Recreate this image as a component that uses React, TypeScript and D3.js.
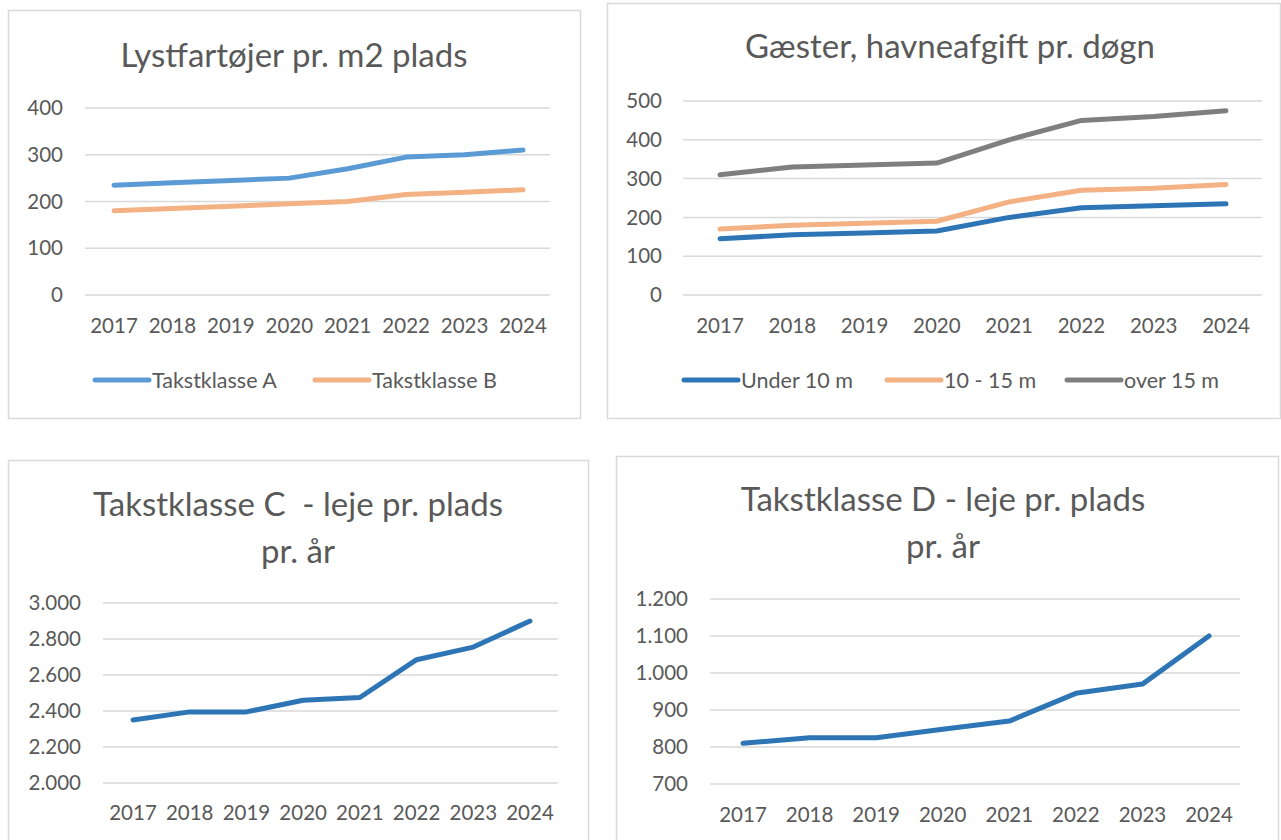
import { useEffect, useRef } from 'react';
import * as d3 from 'd3';

const years = ['2017', '2018', '2019', '2020', '2021', '2022', '2023', '2024'];

// Lystfartøjer pr. m2 plads
const takstA = [235, 240, 245, 250, 270, 295, 300, 310];
const takstB = [180, 185, 190, 195, 200, 215, 220, 225];

// Gæster, havneafgift pr. døgn
const under10 = [145, 155, 160, 165, 200, 225, 230, 235];
const mid10to15 = [170, 180, 185, 190, 240, 270, 275, 285];
const over15 = [310, 330, 335, 340, 400, 450, 460, 475];

// Takstklasse C / D - leje pr. plads pr. år
const takstC = [2350, 2395, 2395, 2460, 2475, 2685, 2755, 2900];
const takstD = [810, 825, 825, 848, 870, 945, 970, 1100];

const ticks1 = [0, 100, 200, 300, 400];
const ticks2 = [0, 100, 200, 300, 400, 500];
const ticksC = [2000, 2200, 2400, 2600, 2800, 3000];
const ticksD = [700, 800, 900, 1000, 1100, 1200];

const FONT = 'Lato, "Open Sans", sans-serif';
const TEXT = '#595959';
const GRID = '#d9d9d9';

interface Series { name: string; values: number[]; color: string }
interface Panel {
  box: [number, number, number, number];
  title: string[];
  titleX: number;
  titleY: number;
  ticks: number[];
  yTop: number;
  yBottom: number;
  gridX: [number, number];
  labelX: number;
  firstX: number;
  lastX: number;
  xLabelY: number;
  series: Series[];
  legend?: { y: number; items: { x: number }[] };
}

const fmt = (v: number) => d3.format(',')(v).replace(/,/g, '.');

const panels: Panel[] = [
  {
    box: [8, 10, 580, 418],
    title: ['Lystfartøjer pr. m2 plads'],
    titleX: 294, titleY: 55,
    ticks: ticks1, yTop: 108, yBottom: 295,
    gridX: [85, 550], labelX: 63,
    firstX: 114, lastX: 523, xLabelY: 326,
    series: [
      { name: 'Takstklasse A', values: takstA, color: '#5b9bd5' },
      { name: 'Takstklasse B', values: takstB, color: '#f4b183' },
    ],
    legend: { y: 380, items: [{ x: 95 }, { x: 315 }] },
  },
  {
    box: [607, 3, 1280, 418],
    title: ['Gæster, havneafgift pr. døgn'],
    titleX: 950, titleY: 46,
    ticks: ticks2, yTop: 101, yBottom: 295,
    gridX: [683, 1262], labelX: 662,
    firstX: 720, lastX: 1226, xLabelY: 326,
    series: [
      { name: 'Under 10 m', values: under10, color: '#2e75b6' },
      { name: '10 - 15 m', values: mid10to15, color: '#f4b183' },
      { name: 'over 15 m', values: over15, color: '#7f7f7f' },
    ],
    legend: { y: 380, items: [{ x: 684 }, { x: 887 }, { x: 1067 }] },
  },
  {
    box: [8, 460, 588, 850],
    title: ['Takstklasse C  - leje pr. plads', 'pr. år'],
    titleX: 298, titleY: 504,
    ticks: ticksC, yTop: 603, yBottom: 783,
    gridX: [103, 558], labelX: 81,
    firstX: 133, lastX: 530, xLabelY: 813,
    series: [{ name: 'C', values: takstC, color: '#2e75b6' }],
  },
  {
    box: [616, 456, 1278, 850],
    title: ['Takstklasse D - leje pr. plads', 'pr. år'],
    titleX: 943, titleY: 499,
    ticks: ticksD, yTop: 599, yBottom: 784,
    gridX: [710, 1240], labelX: 688,
    firstX: 743, lastX: 1209, xLabelY: 815,
    series: [{ name: 'D', values: takstD, color: '#2e75b6' }],
  },
];

export default function App() {
  const ref = useRef<SVGSVGElement>(null);

  useEffect(() => {
    if (!ref.current) return;
    const svg = d3.select(ref.current);
    svg.selectAll('*').remove();

    svg.append('rect').attr('width', 1281).attr('height', 840).attr('fill', '#fff');

    panels.forEach(p => {
      const g = svg.append('g');
      const [bx0, by0, bx1, by1] = p.box;
      g.append('rect')
        .attr('x', bx0 + 0.5).attr('y', by0 + 0.5)
        .attr('width', bx1 - bx0).attr('height', by1 - by0)
        .attr('fill', '#fff').attr('stroke', GRID).attr('stroke-width', 1.5);

      p.title.forEach((t, i) => {
        g.append('text')
          .attr('x', p.titleX).attr('y', p.titleY + i * 47)
          .attr('text-anchor', 'middle').attr('dy', '0.35em')
          .attr('font-family', FONT).attr('font-size', 33).attr('font-weight', 400)
          .attr('fill', TEXT).style('white-space', 'pre')
          .text(t);
      });

      const x = d3.scalePoint<string>().domain(years).range([p.firstX, p.lastX]);
      const y = d3.scaleLinear()
        .domain([p.ticks[0], p.ticks[p.ticks.length - 1]])
        .range([p.yBottom, p.yTop]);

      // gridlines + y labels
      p.ticks.forEach(t => {
        g.append('line')
          .attr('x1', p.gridX[0]).attr('x2', p.gridX[1])
          .attr('y1', y(t)).attr('y2', y(t))
          .attr('stroke', GRID).attr('stroke-width', 1.5);
        g.append('text')
          .attr('x', p.labelX).attr('y', y(t)).attr('dy', '0.35em')
          .attr('text-anchor', 'end')
          .attr('font-family', FONT).attr('font-size', 20.5).attr('fill', TEXT)
          .text(fmt(t));
      });

      // x labels
      years.forEach(yr => {
        g.append('text')
          .attr('x', x(yr)!).attr('y', p.xLabelY).attr('dy', '0.35em')
          .attr('text-anchor', 'middle')
          .attr('font-family', FONT).attr('font-size', 20.5).attr('fill', TEXT)
          .text(yr);
      });

      const line = d3.line<number>()
        .x((_, i) => x(years[i])!)
        .y(d => y(d));

      p.series.forEach(s => {
        g.append('path')
          .attr('d', line(s.values))
          .attr('fill', 'none').attr('stroke', s.color)
          .attr('stroke-width', 5)
          .attr('stroke-linecap', 'round').attr('stroke-linejoin', 'round');
      });

      if (p.legend) {
        p.series.forEach((s, i) => {
          const lx = p.legend!.items[i].x;
          g.append('line')
            .attr('x1', lx).attr('x2', lx + 54)
            .attr('y1', p.legend!.y).attr('y2', p.legend!.y)
            .attr('stroke', s.color).attr('stroke-width', 5)
            .attr('stroke-linecap', 'round');
          g.append('text')
            .attr('x', lx + 57).attr('y', p.legend!.y).attr('dy', '0.35em')
            .attr('font-family', FONT).attr('font-size', 21.5).attr('fill', TEXT)
            .text(s.name);
        });
      }
    });
  }, []);

  return (
    <svg
      ref={ref}
      width={1281}
      height={840}
      style={{ position: 'absolute', left: 0, top: 0, display: 'block' }}
    />
  );
}
